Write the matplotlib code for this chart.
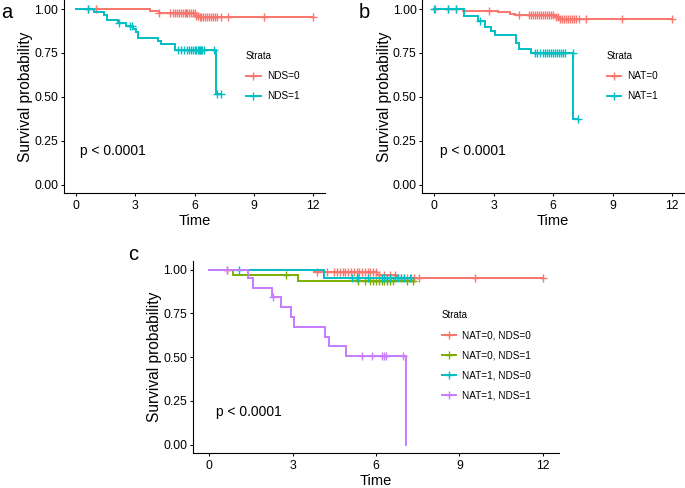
import numpy as np
import matplotlib
matplotlib.use("Agg")
import matplotlib.pyplot as plt
from matplotlib.lines import Line2D

FONT = ['Liberation Sans', 'DejaVu Sans']
plt.rcParams['font.family'] = FONT

RED, GREEN, CYAN, PURPLE = '#F8766D', '#7CAE00', '#00BFC4', '#C77CFF'

# ---------------- Data ----------------
# Panel a : NDS
a_labels = ['NDS=0', 'NDS=1']
a0_event_t = [3.75, 4.2, 6.05, 6.25]
a0_surv = [0.990, 0.980, 0.962, 0.955]
a0_cens = [0.62, 1.03, 4.22, 4.75, 4.9, 5.0, 5.1, 5.2, 5.3, 5.4, 5.5, 5.55, 5.6, 5.7,
           5.8, 5.9, 6.0, 6.1, 6.2, 6.3, 6.35, 6.45, 6.55, 6.65, 6.75, 6.85, 6.95,
           7.05, 7.15, 7.35, 7.7, 9.52, 12.0]
a1_event_t = [0.9, 1.4, 1.55, 2.15, 2.55, 2.9, 3.05, 3.15, 4.15, 4.3, 5.0, 7.07]
a1_surv = [0.984, 0.965, 0.940, 0.921, 0.906, 0.887, 0.868, 0.836, 0.817, 0.800, 0.769, 0.513]
a1_cens = [0.62, 2.2, 2.72, 2.85, 5.15, 5.3, 5.45, 5.6, 5.7, 5.8, 5.9, 6.0, 6.1, 6.2,
           6.25, 6.3, 6.35, 6.4, 6.5, 7.0, 7.15, 7.35]

# Panel b : NAT
b_labels = ['NAT=0', 'NAT=1']
b0_event_t = [1.47, 3.23, 3.8, 4.06, 6.07, 6.3]
b0_surv = [0.990, 0.981, 0.973, 0.964, 0.952, 0.943]
b0_cens = [0.05, 0.69, 1.1, 2.76, 4.26, 4.8, 4.9, 5.0, 5.1, 5.2, 5.3, 5.4, 5.5, 5.6,
           5.7, 5.8, 5.9, 6.0, 6.15, 6.25, 6.35, 6.45, 6.55, 6.65, 6.75, 6.85, 6.95,
           7.05, 7.15, 7.3, 7.64, 9.49, 12.0]
b1_event_t = [1.5, 2.22, 2.56, 2.89, 3.06, 4.15, 4.28, 4.9, 7.02]
b1_surv = [0.958, 0.929, 0.900, 0.876, 0.854, 0.806, 0.772, 0.750, 0.374]
b1_cens = [0.0, 0.69, 1.1, 2.31, 5.07, 5.2, 5.35, 5.5, 5.6, 5.7, 5.8, 5.9, 6.0, 6.1,
           6.2, 6.3, 6.4, 6.5, 6.6, 6.99, 7.24]

# Panel c : NAT x NDS
c_labels = ['NAT=0, NDS=0', 'NAT=0, NDS=1', 'NAT=1, NDS=0', 'NAT=1, NDS=1']
c0_event_t = [3.75, 6.02, 6.74]
c0_surv = [0.986, 0.967, 0.954]
c0_cens = [0.62, 3.87, 4.25, 4.5, 4.6, 4.7, 4.8, 4.9, 5.0, 5.1, 5.2, 5.3, 5.4, 5.5,
           5.6, 5.7, 5.8, 5.9, 6.0, 6.1, 6.3, 6.5, 6.7, 6.9, 7.0, 7.1, 7.25, 7.35,
           7.55, 9.55, 12.0]
c1_event_t = [0.86, 3.18]
c1_surv = [0.971, 0.933]
c1_cens = [2.75, 5.35, 5.6, 5.8, 5.9, 6.0, 6.1, 6.2, 6.3, 6.4, 6.5, 6.6, 7.1, 7.34]
c2_event_t = [4.13]
c2_surv = [0.949]
c2_cens = [1.07, 5.13, 5.3, 5.35, 5.7, 6.2, 6.3, 6.4, 6.5, 6.7, 6.8, 6.9, 7.0, 7.22]
c3_event_t = [1.40, 1.58, 2.27, 2.58, 2.93, 3.05, 4.16, 4.31, 4.91, 7.07]
c3_surv = [0.949, 0.895, 0.843, 0.786, 0.729, 0.672, 0.615, 0.562, 0.505, 0.0]
c3_cens = [0.65, 2.3, 5.51, 5.87, 6.2, 6.28, 6.35, 6.96]

x_ticks = [0, 3, 6, 9, 12]
y_ticks = [0.0, 0.25, 0.5, 0.75, 1.0]
y_ticklabels = ['0.00', '0.25', '0.50', '0.75', '1.00']
p_text = 'p < 0.0001'

# ---------------- Figure ----------------
W, H = 685, 488
fig = plt.figure(figsize=(W / 100, H / 100), dpi=100)


def rect(l, t, r, b):
    return [l / W, 1 - b / H, (r - l) / W, (b - t) / H]


LW = 1.4
MS = 6.0


def km(ax, ev_t, surv, cens, color):
    ev_t = np.asarray(ev_t, float)
    s_all = np.concatenate([[1.0], surv])
    cens = np.asarray(cens, float)
    tmax = max(ev_t.max(), cens.max())
    xs = np.concatenate([[0.0], ev_t, [tmax]])
    ys = np.concatenate([s_all, [s_all[-1]]])
    ax.step(xs, ys, where='post', color=color, lw=LW, solid_joinstyle='miter')
    idx = np.searchsorted(ev_t, cens, side='right')
    ax.plot(cens, s_all[idx], ls='none', marker='+', ms=MS, mew=1.0, color=color)


def style(ax, ylab_x, px, py):
    ax.set_xlim(-0.6, 12.6)
    ax.set_ylim(-0.05, 1.05)
    for s in ['top', 'right']:
        ax.spines[s].set_visible(False)
    for s in ['left', 'bottom']:
        ax.spines[s].set_linewidth(0.8)
        ax.spines[s].set_color('black')
    ax.set_xticks(x_ticks)
    ax.set_xticklabels([str(t) for t in x_ticks])
    ax.set_yticks(y_ticks)
    ax.set_yticklabels(y_ticklabels)
    ax.tick_params(direction='out', length=2.5, width=0.75, colors='black',
                   labelsize=8.8, pad=2.2)
    ax.tick_params(axis='y', pad=1.5)
    ax.set_xlabel('Time', fontsize=10.5)
    ax.set_ylabel('Survival probability', fontsize=11.2)
    ax.xaxis.set_label_coords(0.5, -0.105)
    ax.yaxis.set_label_coords(ylab_x, 0.5)
    ax.text(px, py, p_text, fontsize=10, ha='left', va='center',
            transform=ax.transData)


def legend(ax, labels, colors, x, top):
    handles = [Line2D([], [], color=c, lw=LW, marker='+', ms=MS, mew=1.0)
               for c in colors]
    leg = ax.legend(handles, labels, title='Strata', loc='upper left',
                    bbox_to_anchor=(x / W, 1 - top / H),
                    bbox_transform=fig.transFigure, frameon=False,
                    fontsize=7.2, title_fontsize=6.9, handlelength=1.45,
                    handletextpad=0.65, labelspacing=1.02, borderpad=0,
                    borderaxespad=0, alignment='left')
    return leg


# Panel a
axa = fig.add_axes(rect(64, 0.25, 325, 193.3))
km(axa, a0_event_t, a0_surv, a0_cens, RED)
km(axa, a1_event_t, a1_surv, a1_cens, CYAN)
style(axa, -0.118, 0.22, 0.19)
legend(axa, a_labels, [RED, CYAN], 246, 51)

# Panel b
axb = fig.add_axes(rect(422.3, 0.25, 684, 193.3))
km(axb, b0_event_t, b0_surv, b0_cens, RED)
km(axb, b1_event_t, b1_surv, b1_cens, CYAN)
style(axb, -0.117, 0.30, 0.19)
legend(axb, b_labels, [RED, CYAN], 606.5, 51)

# Panel c
axc = fig.add_axes(rect(192.7, 260.8, 559.4, 453.3))
km(axc, c0_event_t, c0_surv, c0_cens, RED)
km(axc, c1_event_t, c1_surv, c1_cens, GREEN)
km(axc, c2_event_t, c2_surv, c2_cens, CYAN)
km(axc, c3_event_t, c3_surv, c3_cens, PURPLE)
style(axc, -0.0845, 0.24, 0.186)
legend(axc, c_labels, [RED, GREEN, CYAN, PURPLE], 441.5, 310)

# panel letters
fig.text(1 / W, 1 - 18 / H, 'a', fontsize=14.5, va='baseline', ha='left')
fig.text(359 / W, 1 - 18 / H, 'b', fontsize=14.5, va='baseline', ha='left')
fig.text(128 / W, 1 - 260.5 / H, 'c', fontsize=14.5, va='baseline', ha='left')

fig.savefig('out.png', dpi=100)
